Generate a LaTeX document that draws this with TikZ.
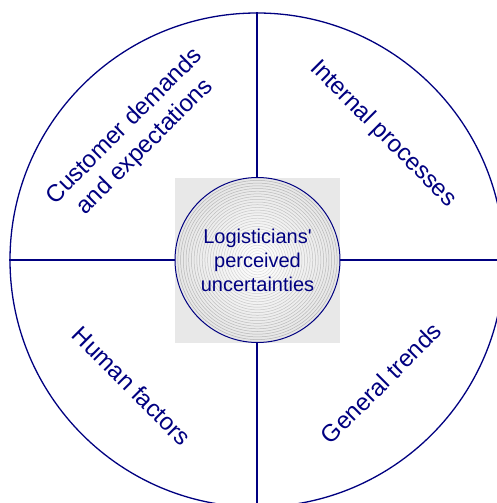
\documentclass[tikz,border=0pt]{standalone}
\usepackage{fontspec}
\setmainfont{Liberation Sans}
\definecolor{navy}{RGB}{0,0,128}
\begin{document}
\begin{tikzpicture}[x=1pt,y=1pt,
  frame/.style={draw=navy, line width=1.3pt},
  sectortext/.style={text=navy, font=\fontsize{24}{29}\selectfont, align=center, inner sep=0pt},
  coretext/.style={text=navy, font=\fontsize{20}{24}\selectfont, align=center}]
\path[use as bounding box] (0,0) rectangle (497,-503);
\clip (0,0) rectangle (497,-503);
\node[circle, frame, minimum size=494pt, inner sep=0pt] (outer) at (257,-260) {};
\draw[frame] (outer.north) -- (outer.south);
\draw[frame] (outer.west) -- (outer.east);
\node[fill=gray!18, minimum size=165pt, inner sep=0pt] (square) at (257.5,-260) {};
\node[circle, draw=navy, line width=1pt, minimum size=165pt, inner sep=0pt,
  inner color=white, outer color=gray!20,
  path picture={
    \foreach \r in {4,6.7,...,82}{
      \pgfmathsetmacro{\c}{20+\r/2}
      \draw[gray!\c, line width=0.5pt] (path picture bounding box.center) circle (\r pt);
    }
  }] (core) at (257.5,-260) {};
\node[coretext] (coretxt) at (core.center) {Logisticians\textquotesingle\\perceived\\uncertainties};
\node[sectortext, rotate=45] (cust) at (135,-137) {Customer demands\\and expectations};
\node[sectortext, rotate=-45] (intp) at (383,-134) {Internal processes};
\node[sectortext, rotate=-45] (hum) at (132,-386) {Human factors};
\node[sectortext, rotate=45] (gen) at (381,-383) {General trends};
\end{tikzpicture}
\end{document}
